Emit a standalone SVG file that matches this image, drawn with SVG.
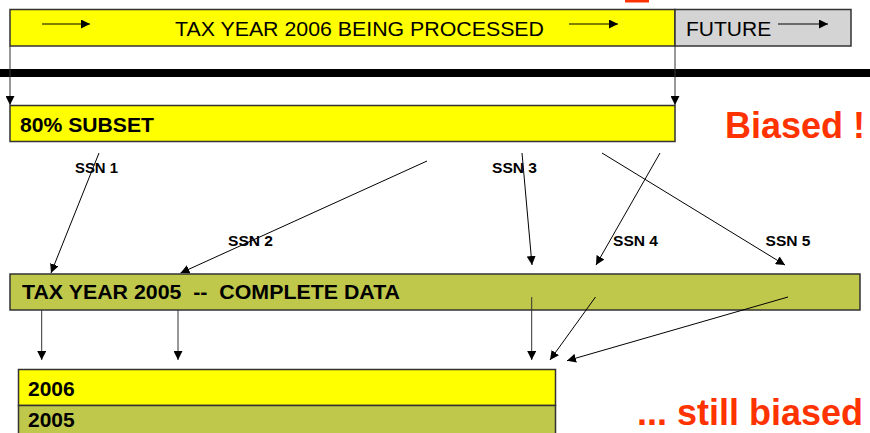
<svg xmlns="http://www.w3.org/2000/svg" width="870" height="433" viewBox="0 0 870 433">
<style>
.bar{stroke:#333;stroke-width:1.5}
.y{fill:#FFFF00}
.g{fill:#BFC84B}
.gr{fill:#D4D4D4}
.t{font-family:"Liberation Sans",Arial,sans-serif;fill:#000}
.b{font-weight:bold}
.red{font-family:"Liberation Sans",Arial,sans-serif;font-weight:bold;fill:#FF3300}
.c{stroke:#000;stroke-width:1;fill:none;marker-end:url(#ah)}
.c2{stroke:#333;stroke-width:1;fill:none;marker-end:url(#ah)}
</style>
<defs>
<marker id="ah" viewBox="0 0 10 10" refX="10" refY="5" markerWidth="9" markerHeight="9" markerUnits="userSpaceOnUse" orient="auto">
<path d="M0,0 L10,5 L0,10 Z" fill="#000"/>
</marker>
</defs>
<rect width="870" height="433" fill="#fff"/>
<rect x="625" y="0" width="24" height="2.5" fill="#FF3300"/>
<g id="topbar">
<rect class="bar y" x="10" y="9.5" width="665" height="36.5"/>
<rect class="bar gr" x="675" y="9.5" width="176" height="36.5"/>
<text class="t" x="175" y="35.5" font-size="21" textLength="369" lengthAdjust="spacingAndGlyphs">TAX YEAR 2006 BEING PROCESSED</text>
<text class="t" x="686" y="35.5" font-size="21">FUTURE</text>
<line class="c" x1="42" y1="24" x2="90" y2="24"/>
<line class="c" x1="569" y1="24" x2="618" y2="24"/>
<line class="c" x1="778" y1="24" x2="828" y2="24"/>
</g>
<rect id="divider" x="0" y="69" width="870" height="8" fill="#000"/>
<g id="subset">
<rect class="bar y" x="10" y="105.5" width="665" height="36"/>
<text class="t b" x="20" y="132.3" font-size="21" textLength="134" lengthAdjust="spacingAndGlyphs">80% SUBSET</text>
</g>
<g id="biased"><text class="red" x="725" y="138" font-size="36">Biased !</text></g>
<g id="complete">
<rect class="bar g" x="10" y="274" width="850" height="36"/>
<text class="t b" x="22" y="299.3" font-size="21" xml:space="preserve" textLength="378" lengthAdjust="spacingAndGlyphs">TAX YEAR 2005  --  COMPLETE DATA</text>
</g>
<g id="result">
<rect class="bar y" x="18.5" y="369.5" width="537" height="36"/>
<text class="t b" x="28" y="395.7" font-size="21">2006</text>
<rect class="bar g" x="18.5" y="405.5" width="537" height="36"/>
<text class="t b" x="28" y="426.7" font-size="21">2005</text>
</g>
<g id="stillbiased"><text class="red" x="637" y="425" font-size="36">... still biased</text></g>
<g id="connectors">
<line class="c2" x1="10" y1="46" x2="10" y2="105"/>
<line class="c2" x1="675" y1="46" x2="675" y2="105"/>
<line class="c" x1="99" y1="153" x2="51" y2="273"/>
<line class="c" x1="427" y1="161" x2="180.5" y2="273"/>
<line class="c" x1="522" y1="153" x2="532" y2="265"/>
<line class="c" x1="660" y1="153" x2="596" y2="265"/>
<line class="c" x1="602" y1="153" x2="785" y2="265"/>
<line class="c2" x1="41.7" y1="310" x2="41.7" y2="360"/>
<line class="c2" x1="178" y1="310" x2="178" y2="360"/>
<line class="c2" x1="531.7" y1="297" x2="531.7" y2="360"/>
<line class="c" x1="595.5" y1="297" x2="550" y2="360"/>
<line class="c" x1="788" y1="297" x2="567" y2="360.7"/>
</g>
<g id="labels">
<text class="t b" x="75" y="173.3" font-size="15" textLength="43" lengthAdjust="spacingAndGlyphs">SSN 1</text>
<text class="t b" x="228" y="245.7" font-size="15" textLength="45" lengthAdjust="spacingAndGlyphs">SSN 2</text>
<text class="t b" x="492" y="173.3" font-size="15" textLength="45" lengthAdjust="spacingAndGlyphs">SSN 3</text>
<text class="t b" x="613" y="245.7" font-size="15" textLength="45" lengthAdjust="spacingAndGlyphs">SSN 4</text>
<text class="t b" x="765.5" y="245.7" font-size="15" textLength="45" lengthAdjust="spacingAndGlyphs">SSN 5</text>
</g>
</svg>
